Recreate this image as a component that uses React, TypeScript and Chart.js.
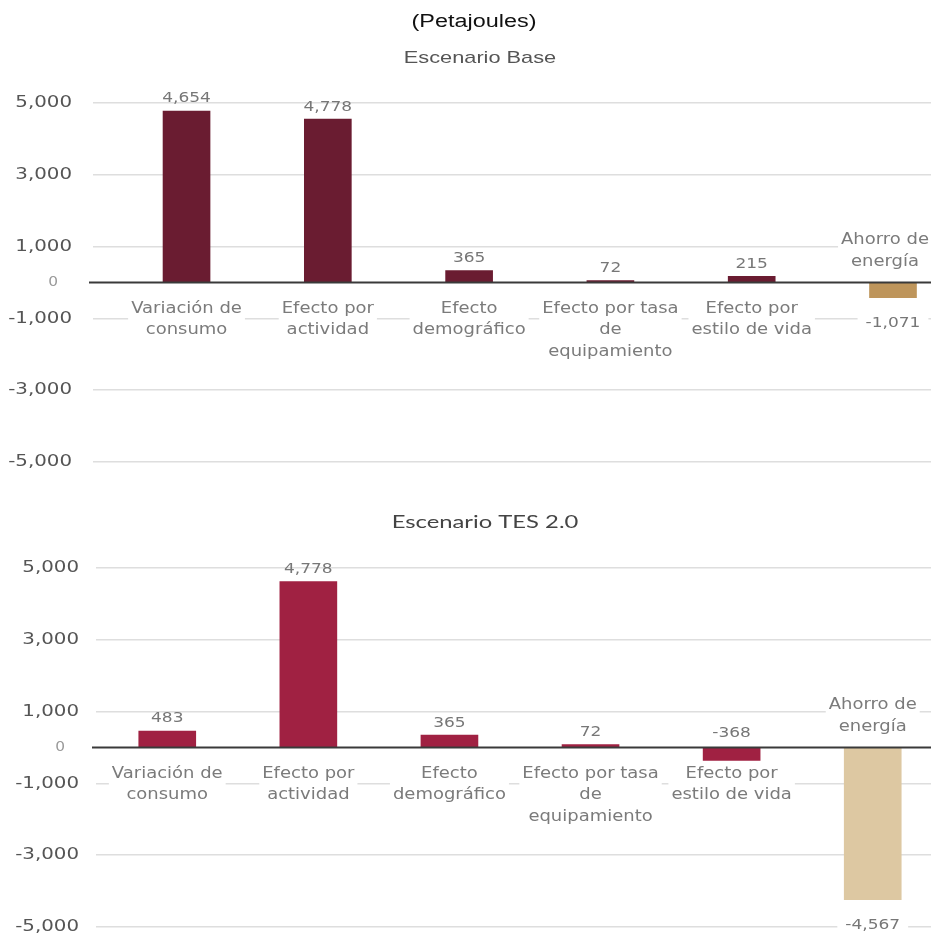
import React, { useEffect, useRef } from 'react';
import { Chart, registerables } from 'chart.js';
Chart.register(...registerables);

// ---------- data ----------
const categoryLines: string[][] = [
  ['Variación de', 'consumo'],
  ['Efecto por', 'actividad'],
  ['Efecto', 'demográfico'],
  ['Efecto por tasa', 'de', 'equipamiento'],
  ['Efecto por', 'estilo de vida'],
  ['Ahorro de', 'energía'],
];
const yTicks = [5000, 3000, 1000, 0, -1000, -3000, -5000];

const baseValues = [4778, 4550, 335, 55, 175, -425];
const baseLabels = ['4,654', '4,778', '365', '72', '215', '-1,071'];

const tesValues = [460, 4620, 345, 80, -360, -4240];
const tesLabels = ['483', '4,778', '365', '72', '-368', '-4,567'];

const mainTitle = '(Petajoules)';
const baseSubtitle = 'Escenario Base';
const tesSubtitle = 'Escenario TES 2.0';

// ---------- styles ----------
const baseColors = ['#6A1C31', '#6A1C31', '#6A1C31', '#6A1C31', '#6A1C31', '#BE955B'];
const tesColors = ['#A02142', '#A02142', '#A02142', '#A02142', '#A02142', '#DDC8A2'];

const TICK_FONT = '16.5px "DejaVu Sans"';
const ZERO_FONT = '14px "DejaVu Sans"';
const CAT_FONT = '15.5px "DejaVu Sans"';
const VAL_FONT = '13.5px "DejaVu Sans"';
const CAT_SX = 1.16;
const VAL_SX = 1.26;

type Panel = {
  height: number;
  values: number[];
  labels: string[];
  colors: string[];
  barWidth: number;
  xMin: number;
  xMax: number;
  padTop: number;
  padBottom: number;
  chartLeft: number;
  tickRight: number;
  titles: { text: string; x: number; y: number; font: string; color: string; sx: number }[];
};

function drawText(
  ctx: CanvasRenderingContext2D,
  text: string,
  x: number,
  y: number,
  font: string,
  color: string,
  align: CanvasTextAlign,
  sx: number
) {
  ctx.save();
  ctx.translate(x, y);
  ctx.scale(sx, 1);
  ctx.font = font;
  ctx.fillStyle = color;
  ctx.textAlign = align;
  ctx.textBaseline = 'middle';
  ctx.fillText(text, 0, 0);
  ctx.restore();
}

function textWidth(ctx: CanvasRenderingContext2D, text: string, font: string, sx: number) {
  ctx.save();
  ctx.font = font;
  const w = ctx.measureText(text).width * sx;
  ctx.restore();
  return w;
}

function makePlugin(p: Panel) {
  return {
    id: 'panelText',
    beforeDatasetsDraw(chart: any) {
      const ctx: CanvasRenderingContext2D = chart.ctx;
      const xs = chart.scales.x;
      const ys = chart.scales.y;
      const zero = ys.getPixelForValue(0);
      const n = p.values.length;
      const meta = chart.getDatasetMeta(0);
      const lh = 21.5;
      const rightLimit = chart.width - 2;

      // titles
      p.titles.forEach((t) => drawText(ctx, t.text, t.x, t.y, t.font, t.color, 'center', t.sx));

      // y tick labels
      yTicks.forEach((v) => {
        const y = ys.getPixelForValue(v);
        if (v === 0) {
          drawText(ctx, '0', p.tickRight - 14, y, ZERO_FONT, '#9a9a9a', 'right', 1.1);
        } else {
          drawText(ctx, v.toLocaleString('en-US'), p.tickRight, y, TICK_FONT, '#555555', 'right', 1.2);
        }
      });

      // layout of category labels (kept inside the canvas)
      const cats = categoryLines.map((lines, i) => {
        const w = Math.max(...lines.map((l) => textWidth(ctx, l, CAT_FONT, CAT_SX)));
        const x = Math.min(xs.getPixelForValue(i), rightLimit - w / 2);
        const above = i === n - 1;
        const first = above ? zero - 21 - (lines.length - 1) * lh : zero + 26;
        return { x, w, first, lines };
      });
      ctx.save();
      ctx.fillStyle = '#ffffff';
      cats.forEach((c) => {
        ctx.fillRect(c.x - c.w / 2 - 3, c.first - lh / 2 + 1, c.w + 6, c.lines.length * lh - 2);
      });
      ctx.restore();
      cats.forEach((c) =>
        c.lines.forEach((l, k) => drawText(ctx, l, c.x, c.first + k * lh, CAT_FONT, '#7b7b7b', 'center', CAT_SX))
      );

      // value labels
      p.values.forEach((v, i) => {
        const bar: any = meta.data[i];
        const x = bar.x;
        const txt = p.labels[i];
        if (v >= 0) {
          drawText(ctx, txt, x, bar.y - 12, VAL_FONT, '#777777', 'center', VAL_SX);
        } else if (i === n - 1) {
          const y = bar.y + 26;
          const w = textWidth(ctx, txt, VAL_FONT, VAL_SX);
          ctx.save();
          ctx.fillStyle = '#ffffff';
          ctx.fillRect(x - w / 2 - 8, y - 14, w + 16, 28);
          ctx.restore();
          drawText(ctx, txt, x, y, VAL_FONT, '#777777', 'center', VAL_SX);
        } else {
          drawText(ctx, txt, x, zero - 14, VAL_FONT, '#777777', 'center', VAL_SX);
        }
      });
    },
    afterDatasetsDraw(chart: any) {
      const ctx: CanvasRenderingContext2D = chart.ctx;
      const ys = chart.scales.y;
      const zero = ys.getPixelForValue(0);
      ctx.save();
      ctx.strokeStyle = '#3a3a3a';
      ctx.lineWidth = 2;
      ctx.beginPath();
      ctx.moveTo(chart.chartArea.left - 4, zero);
      ctx.lineTo(chart.chartArea.right, zero);
      ctx.stroke();
      ctx.restore();
    },
  };
}

function PanelChart({ panel }: { panel: Panel }) {
  const ref = useRef<HTMLCanvasElement>(null);
  useEffect(() => {
    if (!ref.current) return;
    const chart = new Chart(ref.current, {
      type: 'bar',
      data: {
        datasets: [
          {
            data: panel.values.map((v, i) => ({ x: i, y: v })) as any,
            backgroundColor: panel.colors,
            barThickness: panel.barWidth,
            borderWidth: 0,
          },
        ],
      },
      options: {
        animation: false,
        responsive: false,
        devicePixelRatio: 1,
        layout: { padding: { top: panel.padTop, bottom: panel.padBottom, left: 0, right: 0 } },
        plugins: { legend: { display: false }, tooltip: { enabled: false }, title: { display: false } },
        scales: {
          x: {
            type: 'linear',
            min: panel.xMin,
            max: panel.xMax,
            offset: false,
            display: false,
            grid: { offset: false },
          },
          y: {
            type: 'linear',
            min: -5000,
            max: 5000,
            afterBuildTicks: (s: any) => {
              s.ticks = yTicks.map((v) => ({ value: v }));
            },
            afterFit: (s: any) => {
              s.width = panel.chartLeft;
            },
            ticks: { display: false },
            border: { display: false },
            grid: {
              drawTicks: false,
              lineWidth: 1.5,
              color: (c: any) => (c.tick && c.tick.value === 0 ? 'rgba(0,0,0,0)' : '#DEDEDE'),
            },
          },
        },
      },
      plugins: [makePlugin(panel)],
    } as any);
    return () => chart.destroy();
  }, [panel]);
  return <canvas ref={ref} width={931} height={panel.height} style={{ display: 'block' }} />;
}

const topPanel: Panel = {
  height: 480,
  values: baseValues,
  labels: baseLabels,
  colors: baseColors,
  barWidth: 47,
  xMin: -0.662,
  xMax: 5.269,
  padTop: 103,
  padBottom: 18,
  chartLeft: 93,
  tickRight: 72,
  titles: [
    { text: mainTitle, x: 474, y: 22, font: '18px "Liberation Sans"', color: '#111111', sx: 1.3 },
    { text: baseSubtitle, x: 480, y: 58, font: '17px "Liberation Sans"', color: '#555555', sx: 1.28 },
  ],
};

const bottomPanel: Panel = {
  height: 454,
  values: tesValues,
  labels: tesLabels,
  colors: tesColors,
  barWidth: 57,
  xMin: -0.505,
  xMax: 5.413,
  padTop: 88,
  padBottom: 7,
  chartLeft: 96,
  tickRight: 79,
  titles: [{ text: tesSubtitle, x: 485, y: 43, font: '17px Lato', color: '#444444', sx: 1.4 }],
};

export default function App() {
  useEffect(() => {
    document.body.style.margin = '0';
  }, []);
  return (
    <div style={{ width: 931, height: 934, background: '#ffffff' }}>
      <PanelChart panel={topPanel} />
      <PanelChart panel={bottomPanel} />
    </div>
  );
}
